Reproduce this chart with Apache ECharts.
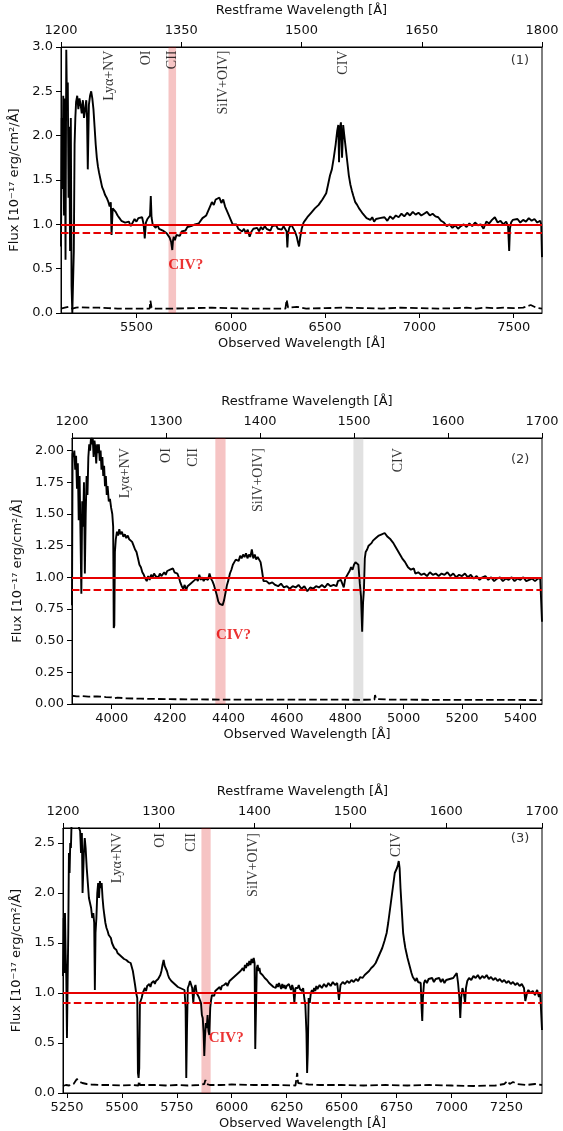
<!DOCTYPE html>
<html><head><meta charset="utf-8">
<script src="https://cdn.jsdelivr.net/npm/echarts@6/dist/echarts.min.js"></script>
<style>html,body{margin:0;padding:0;background:#fff}#c{width:563px;height:1131px}</style>
</head><body><div id="c"></div>
<script>
// ---------------- DATA ----------------
// Panel 1 (observed wavelength, flux, error)
const p1Wave = [5100,5104,5108,5112,5116,5120,5124,5128,5132,5136,5140,5144,5148,5152,5156,5160,5164,5168,5172,5176,5180,5186,5192,5198,5204,5210,5216,5222,5228,5234,5238,5242,5248,5254,5260,5266,5272,5278,5284,5290,5296,5302,5310,5318,5326,5334,5342,5350,5358,5364,5368,5374,5382,5390,5400,5410,5420,5430,5440,5450,5460,5470,5480,5490,5500,5510,5520,5530,5538,5544,5550,5558,5566,5572,5576,5580,5586,5594,5602,5610,5620,5630,5640,5650,5660,5668,5676,5684,5690,5694,5698,5704,5712,5720,5730,5740,5750,5760,5770,5780,5790,5800,5810,5820,5830,5840,5850,5860,5870,5880,5890,5900,5910,5920,5930,5940,5950,5960,5970,5980,5990,6000,6010,6020,6030,6040,6050,6060,6070,6080,6090,6100,6110,6120,6130,6140,6150,6160,6170,6180,6190,6200,6210,6220,6230,6240,6250,6260,6270,6280,6290,6296,6300,6304,6310,6320,6330,6340,6350,6356,6362,6368,6376,6386,6396,6406,6416,6426,6436,6446,6456,6466,6476,6486,6496,6506,6516,6526,6536,6546,6556,6564,6570,6574,6578,6584,6590,6596,6602,6610,6618,6626,6634,6642,6650,6660,6670,6680,6690,6700,6710,6720,6730,6740,6750,6760,6770,6780,6790,6800,6815,6830,6845,6860,6875,6890,6905,6920,6935,6950,6965,6980,6995,7010,7025,7040,7055,7070,7085,7100,7115,7130,7145,7160,7175,7190,7205,7220,7235,7250,7265,7280,7295,7310,7325,7340,7355,7370,7385,7400,7415,7430,7445,7460,7470,7476,7480,7486,7495,7505,7520,7535,7550,7565,7580,7595,7610,7625,7640,7646,7650];
const p1Flux = [0.75,2.20,1.40,2.45,1.10,2.42,0.60,2.97,2.30,2.60,1.30,2.10,0.70,2.20,0.30,0.00,0.02,0.70,1.90,2.20,2.38,2.45,2.30,2.42,2.35,2.25,2.40,2.20,2.30,2.40,2.20,1.62,2.35,2.45,2.50,2.42,2.30,2.10,1.90,1.75,1.65,1.58,1.50,1.42,1.38,1.33,1.30,1.26,1.20,1.25,0.88,1.18,1.20,1.14,1.10,1.07,1.04,1.05,1.02,1.00,1.03,0.98,1.00,1.06,1.03,1.07,1.05,1.08,1.00,0.84,1.02,1.06,1.05,1.10,1.32,1.08,1.00,0.98,0.96,1.00,0.95,0.97,0.93,0.95,0.90,0.88,0.85,0.80,0.71,0.82,0.86,0.82,0.88,0.90,0.87,0.92,0.94,0.93,0.97,0.95,0.98,0.96,1.00,0.98,1.01,1.03,1.07,1.05,1.10,1.12,1.20,1.25,1.22,1.28,1.26,1.30,1.24,1.28,1.20,1.18,1.10,1.05,1.00,0.98,1.00,0.95,0.97,0.92,0.95,0.90,0.94,0.86,0.92,0.95,0.93,0.96,0.92,0.97,0.94,0.98,0.95,0.97,0.93,0.98,0.96,0.99,0.95,0.97,0.94,0.98,0.96,0.92,0.74,0.90,0.96,1.00,0.98,0.92,0.86,0.80,0.75,0.85,0.95,1.02,1.05,1.08,1.10,1.13,1.15,1.18,1.20,1.22,1.25,1.28,1.30,1.35,1.45,1.55,1.62,1.75,1.90,2.05,2.12,1.70,2.08,2.15,1.75,2.12,2.00,1.85,1.70,1.55,1.45,1.38,1.32,1.25,1.22,1.18,1.15,1.12,1.10,1.07,1.09,1.05,1.08,1.03,1.06,1.04,1.07,1.05,1.08,1.04,1.09,1.06,1.10,1.08,1.12,1.09,1.13,1.10,1.14,1.11,1.13,1.10,1.12,1.14,1.10,1.12,1.09,1.08,1.04,1.02,0.98,1.00,0.96,0.99,0.95,0.98,1.00,0.97,1.01,0.98,1.02,0.99,1.00,0.95,1.03,1.01,1.05,1.08,1.02,1.04,1.00,1.03,0.98,0.70,0.95,1.02,1.05,1.03,1.06,1.02,1.05,1.03,1.07,1.04,1.06,1.02,1.04,1.00,0.63];
const p1ErrWave = [5100,5120,5140,5160,5180,5200,5250,5300,5350,5400,5500,5570,5574,5580,5600,5700,5800,5900,6000,6100,6200,6290,6296,6304,6350,6360,6400,6500,6600,6700,6800,6900,7000,7100,7200,7250,7300,7350,7400,7450,7500,7550,7590,7600,7620,7650];
const p1Err = [0.05,0.06,0.07,0.05,0.06,0.065,0.06,0.06,0.055,0.05,0.05,0.05,0.14,0.06,0.05,0.05,0.055,0.06,0.055,0.05,0.05,0.05,0.15,0.06,0.07,0.06,0.05,0.055,0.06,0.055,0.05,0.06,0.055,0.05,0.055,0.06,0.05,0.06,0.055,0.06,0.055,0.06,0.09,0.07,0.06,0.05];

// Panel 2
const p2Wave = [3864,3866,3869,3872,3875,3878,3881,3884,3887,3890,3893,3896,3899,3902,3905,3908,3911,3914,3917,3920,3923,3926,3929,3932,3935,3938,3941,3944,3947,3950,3953,3956,3959,3962,3965,3968,3971,3974,3977,3980,3983,3986,3990,3994,3998,4002,4005,4007,4009,4011,4014,4018,4022,4026,4030,4035,4040,4045,4050,4055,4060,4065,4070,4075,4080,4085,4090,4095,4100,4105,4110,4115,4120,4125,4130,4135,4140,4145,4150,4155,4160,4165,4170,4175,4180,4185,4190,4195,4200,4205,4210,4215,4220,4225,4230,4235,4240,4245,4250,4255,4260,4265,4270,4275,4280,4285,4290,4295,4300,4305,4310,4315,4320,4325,4330,4335,4340,4345,4350,4355,4360,4365,4370,4375,4380,4385,4390,4395,4400,4405,4410,4415,4420,4425,4430,4435,4440,4445,4450,4455,4460,4465,4470,4475,4480,4485,4490,4495,4500,4505,4510,4515,4520,4525,4530,4540,4550,4560,4570,4580,4590,4600,4610,4620,4630,4640,4650,4660,4670,4680,4690,4700,4710,4720,4730,4740,4750,4760,4770,4775,4780,4785,4790,4795,4800,4805,4810,4815,4820,4825,4830,4835,4840,4845,4850,4854,4858,4861,4864,4867,4870,4875,4880,4885,4890,4895,4900,4905,4910,4915,4920,4925,4930,4935,4940,4945,4950,4955,4960,4965,4970,4975,4980,4985,4990,4995,5000,5005,5010,5015,5020,5025,5030,5035,5040,5050,5060,5070,5080,5090,5100,5110,5120,5130,5140,5150,5160,5170,5180,5190,5200,5210,5220,5230,5240,5250,5260,5270,5280,5290,5300,5310,5320,5330,5340,5350,5360,5370,5380,5390,5400,5410,5420,5430,5440,5450,5460,5468,5472,5474];
const p2Flux = [0.78,1.98,1.95,2.00,1.85,1.96,1.70,1.90,1.45,1.80,1.35,0.87,1.60,1.40,1.75,1.03,1.50,1.80,1.65,1.95,2.05,2.00,2.10,2.05,2.10,1.95,2.08,2.02,1.90,2.05,1.98,2.05,1.92,2.00,1.85,1.95,1.80,1.88,1.72,1.80,1.65,1.72,1.60,1.62,1.55,1.50,1.40,0.60,0.62,1.20,1.30,1.36,1.33,1.38,1.34,1.36,1.32,1.34,1.31,1.33,1.30,1.31,1.28,1.25,1.22,1.20,1.15,1.10,1.08,1.04,1.02,0.99,0.97,1.01,0.98,1.02,1.00,1.03,1.01,1.02,1.00,1.03,1.01,1.02,1.04,1.02,1.05,1.04,1.06,1.05,1.07,1.04,1.05,1.03,1.00,0.96,0.93,0.91,0.94,0.90,0.93,0.92,0.95,0.94,0.97,0.96,0.99,0.97,1.02,0.98,1.00,0.97,0.99,1.00,0.98,1.03,0.99,0.97,0.94,0.90,0.86,0.81,0.79,0.80,0.78,0.82,0.88,0.94,0.98,1.03,1.06,1.10,1.12,1.14,1.15,1.13,1.17,1.15,1.18,1.16,1.19,1.15,1.18,1.16,1.22,1.15,1.18,1.14,1.16,1.15,1.12,1.05,0.97,0.96,0.97,0.95,0.96,0.94,0.93,0.95,0.92,0.93,0.91,0.93,0.92,0.94,0.91,0.93,0.89,0.92,0.91,0.93,0.92,0.94,0.92,0.95,0.93,0.94,0.93,0.97,0.96,0.98,0.97,0.92,0.99,1.00,1.03,1.05,1.08,1.06,1.10,1.12,1.13,1.10,0.95,0.85,0.57,0.80,0.90,1.15,1.20,1.22,1.25,1.24,1.27,1.29,1.30,1.31,1.30,1.33,1.32,1.34,1.33,1.35,1.34,1.32,1.33,1.30,1.29,1.27,1.25,1.24,1.21,1.20,1.17,1.15,1.14,1.12,1.10,1.08,1.07,1.06,1.05,1.07,1.03,1.04,1.02,1.03,1.01,1.04,1.02,1.03,1.01,1.03,1.02,1.04,1.01,1.03,1.00,1.02,1.01,1.03,1.00,1.02,0.99,1.01,0.98,1.00,1.01,0.98,1.00,0.97,0.99,1.00,0.97,0.99,0.98,1.00,0.97,0.99,0.98,1.00,0.97,0.98,0.99,0.97,0.99,0.99,0.98,0.65];
const p2ErrWave = [3864,3880,3900,3920,3950,3980,4000,4010,4020,4050,4100,4150,4200,4300,4400,4500,4600,4700,4800,4850,4900,4902,4906,4950,5000,5100,5200,5300,5400,5474];
const p2Err = [0.065,0.06,0.062,0.058,0.06,0.055,0.052,0.045,0.05,0.045,0.042,0.04,0.038,0.036,0.035,0.035,0.034,0.034,0.034,0.033,0.035,0.07,0.04,0.035,0.034,0.033,0.033,0.032,0.032,0.031];

// Panel 3
const p3Wave = [5232,5235,5238,5241,5244,5247,5250,5253,5256,5259,5262,5265,5268,5271,5275,5280,5285,5290,5295,5300,5305,5310,5314,5318,5321,5324,5327,5331,5335,5340,5345,5350,5355,5360,5365,5370,5374,5377,5380,5384,5388,5392,5396,5400,5404,5408,5412,5416,5420,5425,5430,5435,5440,5445,5450,5455,5460,5465,5470,5475,5480,5485,5490,5495,5500,5505,5510,5515,5520,5525,5530,5535,5540,5545,5550,5555,5560,5565,5570,5573,5576,5579,5582,5586,5590,5595,5600,5605,5610,5615,5620,5625,5630,5635,5640,5645,5650,5655,5660,5665,5670,5675,5680,5685,5690,5695,5700,5705,5710,5715,5720,5725,5730,5735,5740,5745,5750,5755,5760,5765,5770,5775,5780,5785,5790,5793,5796,5800,5805,5810,5815,5820,5825,5830,5835,5840,5845,5850,5855,5860,5864,5868,5872,5875,5878,5882,5886,5890,5894,5898,5902,5906,5910,5915,5920,5925,5930,5935,5940,5945,5950,5955,5960,5965,5970,5975,5980,5985,5990,5995,6000,6005,6010,6015,6020,6025,6030,6035,6040,6045,6050,6055,6060,6065,6070,6075,6080,6085,6090,6095,6100,6104,6107,6110,6114,6118,6122,6126,6130,6135,6140,6145,6150,6155,6160,6165,6170,6175,6180,6185,6190,6195,6200,6205,6210,6215,6220,6225,6230,6235,6240,6245,6250,6255,6260,6265,6270,6275,6280,6285,6290,6295,6300,6305,6310,6315,6320,6325,6330,6335,6340,6343,6346,6350,6355,6360,6365,6370,6375,6380,6385,6390,6400,6410,6420,6430,6440,6450,6460,6470,6480,6488,6495,6505,6515,6525,6535,6545,6555,6565,6575,6585,6595,6605,6615,6625,6635,6645,6655,6665,6675,6685,6695,6705,6712,6718,6724,6730,6736,6742,6748,6752,6756,6760,6764,6768,6772,6776,6780,6785,6790,6795,6800,6806,6812,6818,6824,6830,6836,6842,6848,6854,6860,6864,6867,6870,6875,6880,6888,6896,6904,6912,6920,6928,6936,6944,6952,6960,6968,6976,6984,6992,7000,7008,7016,7024,7030,7036,7040,7044,7050,7056,7062,7066,7072,7080,7090,7100,7110,7120,7130,7140,7150,7160,7170,7180,7190,7200,7210,7220,7230,7240,7250,7260,7270,7280,7290,7300,7310,7320,7330,7336,7340,7344,7350,7360,7370,7380,7390,7398,7404,7408,7412];
const p3Flux = [1.17,1.75,1.20,1.80,1.40,1.15,0.55,1.10,1.60,2.40,2.20,2.50,2.45,2.70,2.75,2.80,2.75,2.80,2.70,2.75,2.65,2.62,2.40,2.60,2.00,1.98,2.40,2.55,2.45,2.25,2.10,1.95,1.90,1.85,1.75,1.80,1.70,1.03,1.60,1.75,2.00,2.10,1.95,2.12,2.05,2.10,1.95,1.85,1.78,1.70,1.65,1.62,1.58,1.60,1.55,1.50,1.48,1.45,1.47,1.43,1.40,1.42,1.38,1.40,1.36,1.38,1.34,1.36,1.33,1.35,1.31,1.33,1.30,1.28,1.22,1.15,1.08,1.00,0.95,0.20,0.15,0.25,0.90,0.88,0.95,1.00,0.98,1.05,1.02,1.07,1.05,1.09,1.06,1.10,1.08,1.12,1.09,1.12,1.10,1.14,1.12,1.18,1.22,1.28,1.33,1.27,1.25,1.22,1.18,1.15,1.17,1.12,1.14,1.10,1.12,1.08,1.10,1.06,1.08,1.05,1.07,1.04,1.06,1.03,0.85,0.15,0.60,1.05,1.08,1.12,1.10,1.05,0.90,1.05,1.08,1.00,1.02,0.96,0.95,0.90,0.78,0.75,0.60,0.37,0.55,0.70,0.65,0.78,0.62,0.58,0.85,0.93,0.98,1.00,0.97,1.02,1.00,1.04,1.02,1.06,1.03,1.07,1.05,1.08,1.06,1.10,1.07,1.09,1.12,1.10,1.14,1.12,1.16,1.14,1.18,1.16,1.20,1.18,1.22,1.20,1.25,1.22,1.28,1.25,1.30,1.27,1.32,1.28,1.34,1.30,1.35,1.30,0.44,0.80,1.25,1.28,1.22,1.25,1.20,1.22,1.18,1.20,1.15,1.17,1.13,1.15,1.10,1.12,1.08,1.10,1.06,1.08,1.05,1.09,1.06,1.10,1.07,1.04,1.09,1.05,1.08,1.04,1.07,1.05,1.09,1.06,1.03,1.08,1.04,0.90,1.05,1.07,1.05,1.08,1.04,1.06,1.02,1.05,0.95,0.88,0.60,0.20,0.40,0.95,0.90,1.00,1.03,1.00,1.05,1.02,1.07,1.04,1.08,1.05,1.09,1.06,1.10,1.07,1.11,1.08,1.10,0.93,1.08,1.11,1.09,1.12,1.10,1.13,1.11,1.14,1.12,1.16,1.15,1.18,1.20,1.22,1.25,1.27,1.30,1.35,1.40,1.45,1.52,1.60,1.70,1.80,1.90,2.00,2.10,2.20,2.22,2.25,2.28,2.32,2.25,2.05,1.90,1.75,1.60,1.52,1.45,1.40,1.35,1.30,1.25,1.20,1.16,1.14,1.12,1.15,1.11,1.13,1.10,0.85,0.72,0.95,1.10,1.13,1.10,1.14,1.12,1.15,1.11,1.14,1.12,1.15,1.11,1.14,1.10,1.13,1.11,1.14,1.12,1.15,1.13,1.20,1.10,0.95,0.75,0.95,1.05,1.00,0.90,1.05,1.12,1.15,1.13,1.17,1.15,1.18,1.14,1.17,1.15,1.18,1.14,1.16,1.13,1.15,1.12,1.14,1.11,1.13,1.10,1.12,1.09,1.11,1.08,1.10,1.07,1.09,1.05,0.92,0.90,1.00,1.03,1.00,1.02,0.98,1.03,0.96,1.00,0.98,0.63];
const p3ErrWave = [5232,5245,5260,5280,5295,5300,5310,5320,5340,5360,5400,5450,5500,5550,5575,5578,5582,5650,5700,5750,5800,5850,5875,5880,5886,5900,5950,6000,6100,6200,6290,6298,6302,6310,6350,6400,6500,6600,6700,6800,6900,7000,7100,7200,7240,7255,7265,7280,7300,7340,7380,7412];
const p3Err = [0.07,0.08,0.075,0.09,0.14,0.12,0.11,0.10,0.09,0.085,0.08,0.08,0.075,0.08,0.075,0.12,0.08,0.08,0.075,0.08,0.075,0.08,0.09,0.13,0.09,0.08,0.08,0.085,0.08,0.08,0.075,0.20,0.10,0.08,0.085,0.08,0.08,0.075,0.08,0.075,0.08,0.075,0.07,0.075,0.09,0.12,0.09,0.11,0.09,0.08,0.09,0.08];

// axes: observed range, restframe range, flux max, tick labels
const obsRange = [[5100,7650],[3864,5474],[5232,7412]];
const restRange = [[1200,1800],[1200,1700],[1200,1700]];
const fluxMax = [3.0, 2.1, 2.65];
const obsTicks = [[5500,6000,6500,7000,7500],[4000,4200,4400,4600,4800,5000,5200,5400],[5250,5500,5750,6000,6250,6500,6750,7000,7250]];
const restTicks = [[1200,1350,1500,1650,1800],[1200,1300,1400,1500,1600,1700],[1200,1300,1400,1500,1600,1700]];
const fluxTicks = [[0,0.5,1.0,1.5,2.0,2.5,3.0],[0,0.25,0.5,0.75,1.0,1.25,1.5,1.75,2.0],[0,0.5,1.0,1.5,2.0,2.5]];
const fluxDecimals = [1,2,1];

// annotations
const lineNames = ['Lyα+NV','OI','CII','SiIV+OIV]','CIV'];
const lineRest = [[1260,1307,1339,1403,1552],[1257,1300,1329,1398,1547],[1257,1302,1334,1399,1548]];
const lineLabelY = [2.96,2.02,2.60];
const panelTags = ['(1)','(2)','(3)'];
const tagPos = [[7533,2.85],[5399,1.93],[7312,2.54]];
const civTagPos = [[5668,0.54],[4357,0.54],[5895,0.55]];
const redBand = [[5670,5710],[4355,4390],[5862,5904]];
const grayBand = [null,[4828,4862],null];
const contLevel = 1.0, contLow = 0.9;

// ---------------- LAYOUT ----------------
const grids = [
  {left:61, top:47, width:481, height:266},
  {left:72, top:438, width:470, height:266},
  {left:63, top:828, width:479, height:266}
];
const yNameGap = [34,45,36];

const FONT = 'DejaVu Sans';
const SERIF = 'Liberation Serif';
const RED = '#e60000';
const zip = (a,b) => a.map((v,i)=>[v,b[i]]);

const option = {animation:false, backgroundColor:'#fff', grid:[], xAxis:[], yAxis:[], series:[]};
for (let i=0;i<3;i++){
  option.grid.push(Object.assign({show:true, borderColor:'#000', borderWidth:1, containLabel:false}, grids[i]));
  const axisCommon = {
    axisLine:{show:true, onZero:false, lineStyle:{color:'#000', width:1}},
    splitLine:{show:false},
    axisTick:{show:true, inside:false, length:5, lineStyle:{color:'#000', width:1}},
    axisLabel:{color:'#111', fontFamily:FONT, fontSize:13, margin:8},
    nameTextStyle:{color:'#111', fontFamily:FONT, fontSize:13},
    nameLocation:'middle'
  };
  // bottom: observed
  option.xAxis.push(Object.assign({}, axisCommon, {
    type:'value', gridIndex:i, position:'bottom', min:obsRange[i][0], max:obsRange[i][1],
    name:'Observed Wavelength [Å]', nameGap:24,
    axisTick:Object.assign({}, axisCommon.axisTick, {customValues:obsTicks[i]}),
    axisLabel:Object.assign({}, axisCommon.axisLabel, {customValues:obsTicks[i], formatter:v=>String(v)})
  }));
  // top: restframe
  option.xAxis.push(Object.assign({}, axisCommon, {
    type:'value', gridIndex:i, position:'top', min:restRange[i][0], max:restRange[i][1],
    name:'Restframe Wavelength [Å]', nameGap:30,
    axisTick:Object.assign({}, axisCommon.axisTick, {customValues:restTicks[i]}),
    axisLabel:Object.assign({}, axisCommon.axisLabel, {margin:10, customValues:restTicks[i], formatter:v=>String(v)})
  }));
  option.yAxis.push(Object.assign({}, axisCommon, {
    type:'value', gridIndex:i, position:'left', min:0, max:fluxMax[i],
    name:'Flux [10⁻¹⁷ erg/cm²/Å]', nameRotate:90, nameGap:yNameGap[i],
    axisTick:Object.assign({}, axisCommon.axisTick, {customValues:fluxTicks[i]}),
    axisLabel:Object.assign({}, axisCommon.axisLabel, {customValues:fluxTicks[i], formatter:v=>v.toFixed(fluxDecimals[i])})
  }));
}

const waves=[p1Wave,p2Wave,p3Wave], fluxes=[p1Flux,p2Flux,p3Flux];
const ewaves=[p1ErrWave,p2ErrWave,p3ErrWave], errs=[p1Err,p2Err,p3Err];
for (let i=0;i<3;i++){
  const areas = [[{xAxis:redBand[i][0], itemStyle:{color:'rgba(220,20,20,0.25)'}},{xAxis:redBand[i][1]}]];
  if (grayBand[i]) areas.push([{xAxis:grayBand[i][0], itemStyle:{color:'rgba(128,128,128,0.24)'}},{xAxis:grayBand[i][1]}]);
  // error spectrum (with shaded bands)
  option.series.push({
    type:'line', xAxisIndex:2*i, yAxisIndex:i, data:zip(ewaves[i],errs[i]), showSymbol:false, symbol:'none',
    lineStyle:{color:'#000', width:1.8, type:[7.5,3.3]}, z:2, silent:true,
    markArea:{silent:true, data:areas}
  });
  // flux spectrum
  option.series.push({
    type:'line', xAxisIndex:2*i, yAxisIndex:i, data:zip(waves[i],fluxes[i]), showSymbol:false, symbol:'none',
    lineStyle:{color:'#000', width:1.9}, z:3, silent:true, clip:true
  });
  // continuum reference lines
  option.series.push({
    type:'line', xAxisIndex:2*i, yAxisIndex:i, data:[], z:4, silent:true,
    markLine:{silent:true, symbol:'none', label:{show:false},
      data:[{yAxis:contLevel, lineStyle:{color:RED, width:1.8, type:'solid'}},
            {yAxis:contLow, lineStyle:{color:RED, width:1.8, type:[7.5,3.3]}}]}
  });
  // emission line labels (restframe axis)
  option.series.push({
    type:'scatter', xAxisIndex:2*i+1, yAxisIndex:i, symbolSize:0, silent:true, z:5,
    data:lineNames.map((n,k)=>[lineRest[i][k], lineLabelY[i], n]),
    label:{show:true, position:[0,0], rotate:90, align:'right', verticalAlign:'middle',
      formatter:p=>p.data[2], fontFamily:SERIF, fontSize:14, color:'#000'}
  });
  // panel tag + CIV? tag
  option.series.push({
    type:'scatter', xAxisIndex:2*i, yAxisIndex:i, symbolSize:0, silent:true, z:5,
    data:[[tagPos[i][0], tagPos[i][1], panelTags[i]]],
    label:{show:true, position:[0,0], align:'center', verticalAlign:'middle',
      formatter:p=>p.data[2], fontFamily:FONT, fontSize:13, color:'#000'}
  });
  option.series.push({
    type:'scatter', xAxisIndex:2*i, yAxisIndex:i, symbolSize:0, silent:true, z:5,
    data:[[civTagPos[i][0], civTagPos[i][1], 'CIV?']],
    label:{show:true, position:[0,0], align:'left', verticalAlign:'middle',
      formatter:p=>p.data[2], fontFamily:SERIF, fontWeight:'bold', fontSize:15, color:RED}
  });
}

const chart = echarts.init(document.getElementById('c'), null, {renderer:'canvas'});
chart.setOption(option);
</script>
</body></html>
